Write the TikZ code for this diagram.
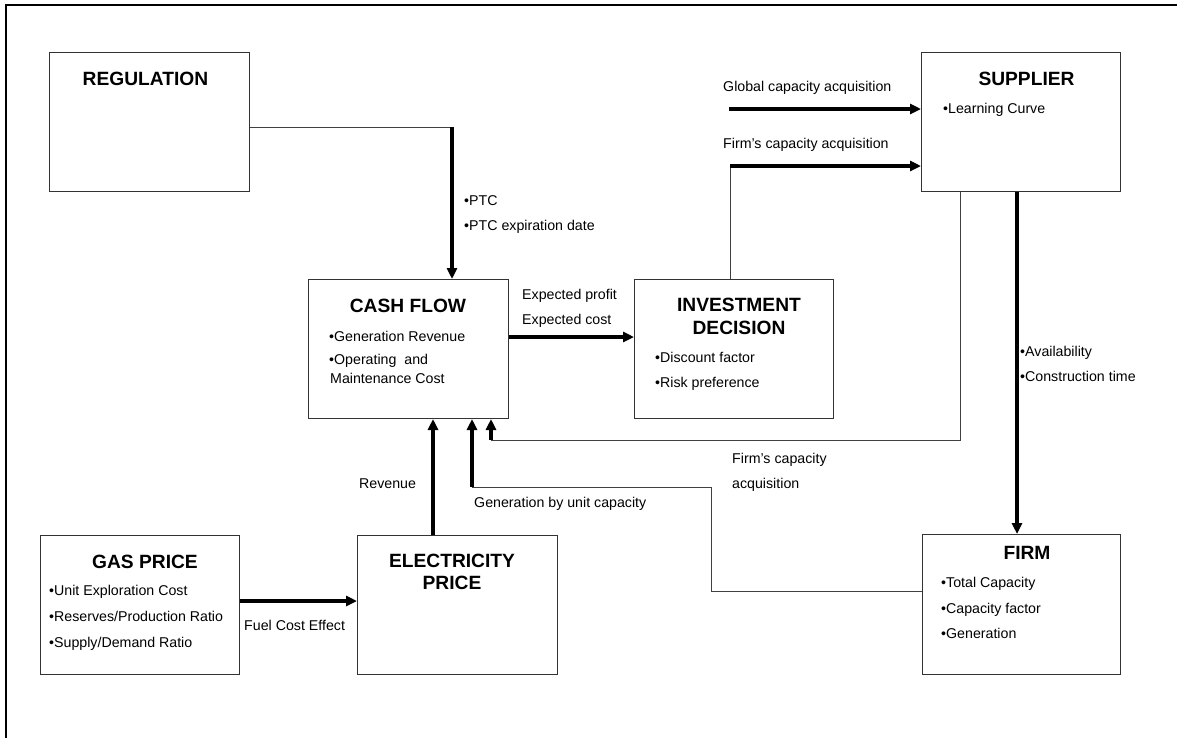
\documentclass[tikz,border=0pt]{standalone}
\usepackage{fontspec}
\setmainfont{Liberation Sans}
\usetikzlibrary{arrows.meta,calc}
\begin{document}
\begin{tikzpicture}[x=1pt,y=-1pt,
  box/.style={draw=black!80,line width=1pt,inner sep=0pt,anchor=north west},
  ttl/.style={font=\fontsize{19.2}{20}\selectfont\bfseries,inner sep=0pt,anchor=mid,align=center,yshift=-3pt},
  txt/.style={font=\fontsize{14.2}{16}\selectfont,inner sep=0pt,anchor=mid west,yshift=-2.5pt},
  thinline/.style={draw=black!75,line width=1pt},
  thickline/.style={draw=black,line width=3.2pt},
  arr/.style={thickline,-{Triangle[length=11pt,width=10pt]}}]
\useasboundingbox (0,0) rectangle (1177,737);
\fill[white] (0,0) rectangle (1177,737);
% frame
\draw[line width=2.4pt] (6,740) -- (6,5) -- (1180,5);
% boxes
\node[box,minimum width=200pt,minimum height=139pt] (reg) at (49,52) {};
\node[box,minimum width=199pt,minimum height=139pt] (sup) at (921,52) {};
\node[box,minimum width=200pt,minimum height=139pt] (cash) at (308,279) {};
\node[box,minimum width=199pt,minimum height=139pt] (inv) at (634,279) {};
\node[box,minimum width=199pt,minimum height=139pt] (gas) at (40,535) {};
\node[box,minimum width=200pt,minimum height=139pt] (elec) at (357,535) {};
\node[box,minimum width=198pt,minimum height=140pt] (firm) at (922,534) {};
% titles
\node[ttl] (tReg) at (145.5,80) {REGULATION};
\node[ttl] (tSup) at (1026.5,80) {SUPPLIER};
\node[ttl] (tCash) at (408,307) {CASH FLOW};
\node[ttl] (tInv1) at (739,306) {INVESTMENT};
\node[ttl] (tInv2) at (739,329) {DECISION};
\node[ttl] (tGas) at (145,563) {GAS PRICE};
\node[ttl] (tEl1) at (452,562) {ELECTRICITY};
\node[ttl] (tEl2) at (452,584) {PRICE};
\node[ttl] (tFirm) at (1027,554) {FIRM};
% box contents
\node[txt] (s1) at (943,108) {•Learning Curve};
\node[txt] (c1) at (329,336) {•Generation Revenue};
\node[txt] (c2) at (329,359) {•Operating\ \ and};
\node[txt] (c3) at (330,378) {Maintenance Cost};
\node[txt] (i1) at (655,357) {•Discount factor};
\node[txt] (i2) at (655,382) {•Risk preference};
\node[txt] (g1) at (49,590) {•Unit Exploration Cost};
\node[txt] (g2) at (49,616) {•Reserves/Production Ratio};
\node[txt] (g3) at (49,642) {•Supply/Demand Ratio};
\node[txt] (f1) at (941,582) {•Total Capacity};
\node[txt] (f2) at (941,608) {•Capacity factor};
\node[txt] (f3) at (941,633) {•Generation};
% connector labels
\node[txt] (lPTC1) at (464,200) {•PTC};
\node[txt] (lPTC2) at (464,225) {•PTC expiration date};
\node[txt] (lGlob) at (723,86) {Global capacity acquisition};
\node[txt] (lFirmAcq) at (723,143) {Firm’s capacity acquisition};
\node[txt] (lEp) at (522,294) {Expected profit};
\node[txt] (lEc) at (522,319) {Expected cost};
\node[txt] (lAv) at (1020,351) {•Availability};
\node[txt] (lCt) at (1020,376) {•Construction time};
\node[txt] (lFc1) at (732,458) {Firm’s capacity};
\node[txt] (lFc2) at (732,483) {acquisition};
\node[txt] (lGen) at (474,502) {Generation by unit capacity};
\node[txt] (lRev) at (359,483) {Revenue};
\node[txt] (lFuel) at (244,625) {Fuel Cost Effect};
% coordinates
\coordinate (gStart) at (729,109);
\coordinate (rTurn) at (452,127);
\coordinate (iTurn) at (730,166);
\coordinate (sTurn1) at (960,440);
\coordinate (sTurn2) at (491,440);
\coordinate (fTurn1) at (711,591);
\coordinate (fTurn2) at (711,487);
\coordinate (fTurn3) at (472,487);
% connectors
\draw[thinline] (reg.east |- rTurn) -- (rTurn);
\draw[arr] (rTurn) -- (rTurn |- cash.north);
\draw[arr] (gStart) -- (gStart -| sup.west);
\draw[thinline] (inv.north -| iTurn) -- (iTurn);
\draw[arr] (iTurn) -- (iTurn -| sup.west);
\draw[arr] (cash.east |- 0,337) -- (inv.west |- 0,337);
\draw[arr] (sup.south -| 1017,0) -- (firm.north -| 1017,0);
\draw[thinline] (sup.south -| sTurn1) -- (sTurn1) -- (sTurn2);
\draw[arr] (sTurn2) -- (sTurn2 |- cash.south);
\draw[thinline] (firm.west |- fTurn1) -- (fTurn1) -- (fTurn2) -- (fTurn3);
\draw[arr] (fTurn3) -- (fTurn3 |- cash.south);
\draw[arr] (elec.north -| 433,0) -- (cash.south -| 433,0);
\draw[arr] (gas.east |- 0,601) -- (elec.west |- 0,601);
\end{tikzpicture}
\end{document}
